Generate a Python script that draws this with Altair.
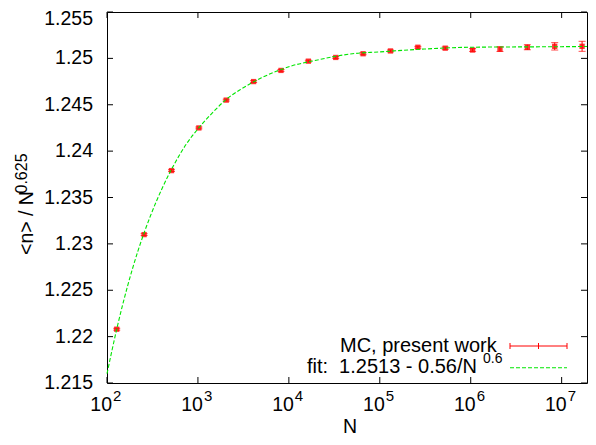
import altair as alt
import pandas as pd

# ---- data ----
N_values = [128, 256, 512, 1024, 2048, 4096, 8192, 16384, 32768, 65536,
            131072, 262144, 524288, 1048576, 2097152, 4194304, 8388608, 16777216]
mean_values = [1.2208, 1.2310, 1.2379, 1.2425, 1.2455, 1.2475, 1.2487, 1.2497, 1.2501, 1.2505,
               1.2508, 1.2512, 1.2511, 1.2509, 1.2510, 1.2512, 1.2513, 1.2513]
err_values = [0.0001, 0.0001, 0.0001, 0.0001, 0.0001, 0.0001, 0.0001, 0.0001, 0.0001, 0.0001,
              0.0001, 0.0001, 0.00012, 0.00015, 0.00025, 0.00027, 0.0004, 0.00054]

# fit curve (green dashed)
fit_N = [100, 130, 170, 220, 300, 400, 550, 750, 1000, 1500, 2000, 3000, 5000,
         10000, 20000, 50000, 100000, 300000, 1000000, 10000000, 19000000]
fit_values = [1.2160, 1.2211, 1.2256, 1.2293, 1.2330, 1.2359, 1.2386, 1.2408, 1.2424,
              1.2443, 1.2455, 1.2467, 1.2479, 1.2491, 1.2498, 1.2505, 1.2507, 1.2510,
              1.2512, 1.25126, 1.25128]

y_ticks = [1.215, 1.22, 1.225, 1.23, 1.235, 1.24, 1.245, 1.25, 1.255]
x_ticks = [100, 1000, 10000, 100000, 1000000, 10000000]
x_exponents = ["2", "3", "4", "5", "6", "7"]

legend_labels = ["MC, present work", "fit:\u00a0\u00a01.2513 - 0.56/N"]
legend_sup = "0.6"
x_title = "N"
y_title_main = "<n> / N"
y_title_sup = "0.625"

# ---- layout / style ----
W, H = 480, 371
FONT = "Liberation Sans"
FS = 19.5
FS_LEG = 20
FS_SUP = 15
RED = "#ff0000"
GREEN = "#00e600"
LX = -5  # legend horizontal shift

df = pd.DataFrame({
    "N": N_values,
    "mean": mean_values,
    "lo": [m - e for m, e in zip(mean_values, err_values)],
    "hi": [m + e for m, e in zip(mean_values, err_values)],
})
fit_df = pd.DataFrame({"N": fit_N, "fit": fit_values})
yt_df = pd.DataFrame({"v": y_ticks})
ylab_df = pd.DataFrame({"v": y_ticks[:-1]})
ylab_top_df = pd.DataFrame({"v": y_ticks[-1:]})
xt_df = pd.DataFrame({"v": x_ticks, "e": x_exponents})
one = pd.DataFrame({"k": [0]})

xscale = alt.Scale(type="log", domain=[100, 1.9e7], nice=False)
yscale = alt.Scale(domain=[1.215, 1.255], nice=False, zero=False)


def X(f):
    return alt.X(f, type="quantitative", scale=xscale, axis=None)


def Y(f):
    return alt.Y(f, type="quantitative", scale=yscale, axis=None)


def black_text(**kw):
    return dict(font=FONT, color="black", **kw)


# inward ticks (all four sides)
yt_left = alt.Chart(yt_df).mark_rule(color="black", strokeWidth=1).encode(
    y=Y("v"), x=alt.value(0), x2=alt.value(6))
yt_right = alt.Chart(yt_df).mark_rule(color="black", strokeWidth=1).encode(
    y=Y("v"), x=alt.value(W - 6), x2=alt.value(W))
xt_bottom = alt.Chart(xt_df).mark_rule(color="black", strokeWidth=1).encode(
    x=X("v"), y=alt.value(H - 6), y2=alt.value(H))
xt_top = alt.Chart(xt_df).mark_rule(color="black", strokeWidth=1).encode(
    x=X("v"), y=alt.value(0), y2=alt.value(6))

# y tick labels
yl = alt.Chart(ylab_df).mark_text(**black_text(align="right", baseline="middle", fontSize=FS)).encode(
    y=Y("v"), x=alt.value(-14), text=alt.Text("v:Q", format=".3~f"))
yl_top = alt.Chart(ylab_top_df).mark_text(**black_text(align="right", baseline="middle", fontSize=FS,
                                                        dy=7)).encode(
    y=Y("v"), x=alt.value(-14), text=alt.Text("v:Q", format=".3~f"))

# error bars
bars = alt.Chart(df).mark_rule(color=RED, strokeWidth=1).encode(
    x=X("N"), y=Y("lo"), y2="hi")
caps_lo = alt.Chart(df).mark_tick(color=RED, orient="horizontal", size=7, thickness=1).encode(
    x=X("N"), y=Y("lo"))
caps_hi = alt.Chart(df).mark_tick(color=RED, orient="horizontal", size=7, thickness=1).encode(
    x=X("N"), y=Y("hi"))
points = alt.Chart(df).mark_square(color=RED, size=28, opacity=0.8).encode(
    x=X("N"), y=Y("mean"))

fit_line = alt.Chart(fit_df).mark_line(color=GREEN, strokeWidth=1.1, strokeDash=[4, 2],
                                       interpolate="monotone").encode(
    x=X("N"), y=Y("fit"))

# x tick labels 10^k
xl_base = alt.Chart(xt_df).mark_text(**black_text(align="right", baseline="alphabetic", dx=5,
                                                  fontSize=FS)).encode(
    x=X("v"), y=alt.value(399.4), text=alt.value("10"))
xl_sup = alt.Chart(xt_df).mark_text(**black_text(align="left", baseline="alphabetic", dx=6,
                                                 fontSize=FS_SUP)).encode(
    x=X("v"), y=alt.value(389), text="e:N")

# titles
xtitle = alt.Chart(one).mark_text(**black_text(align="center", baseline="alphabetic",
                                               fontSize=FS)).encode(
    x=alt.value(W / 2 + 3), y=alt.value(421), text=alt.value(x_title))
ytitle = alt.Chart(one).mark_text(**black_text(align="left", baseline="alphabetic", angle=270,
                                               fontSize=FS)).encode(
    x=alt.value(-73.7), y=alt.value(243), text=alt.value(y_title_main))
ytitle_sup = alt.Chart(one).mark_text(**black_text(align="left", baseline="alphabetic", angle=270,
                                                   fontSize=16)).encode(
    x=alt.value(-80.5), y=alt.value(181.5), text=alt.value(y_title_sup))

# legend
leg_t1 = alt.Chart(one).mark_text(**black_text(align="right", baseline="alphabetic",
                                               fontSize=FS_LEG)).encode(
    x=alt.value(394.7 + LX), y=alt.value(339.7), text=alt.value(legend_labels[0]))
leg_t2 = alt.Chart(one).mark_text(**black_text(align="right", baseline="alphabetic",
                                               fontSize=FS_LEG)).encode(
    x=alt.value(375 + LX), y=alt.value(361.3), text=alt.value(legend_labels[1]))
leg_t2s = alt.Chart(one).mark_text(**black_text(align="left", baseline="alphabetic",
                                                fontSize=FS_SUP - 1)).encode(
    x=alt.value(381 + LX), y=alt.value(350.5), text=alt.value(legend_sup))
leg_red = alt.Chart(one).mark_rule(color=RED, strokeWidth=1).encode(
    x=alt.value(408 + LX), x2=alt.value(465 + LX), y=alt.value(334))
leg_red_c1 = alt.Chart(one).mark_rule(color=RED, strokeWidth=1).encode(
    x=alt.value(408 + LX), y=alt.value(331), y2=alt.value(337))
leg_red_c2 = alt.Chart(one).mark_rule(color=RED, strokeWidth=1).encode(
    x=alt.value(465 + LX), y=alt.value(331), y2=alt.value(337))
leg_red_c3 = alt.Chart(one).mark_rule(color=RED, strokeWidth=1).encode(
    x=alt.value(436.5 + LX), y=alt.value(331), y2=alt.value(337))
leg_green = alt.Chart(one).mark_rule(color=GREEN, strokeWidth=1.1, strokeDash=[4, 2]).encode(
    x=alt.value(408 + LX), x2=alt.value(465 + LX), y=alt.value(355.7))

chart = alt.layer(
    yt_left, yt_right, xt_bottom, xt_top, yl, yl_top,
    bars, caps_lo, caps_hi, points, fit_line,
    xl_base, xl_sup, xtitle, ytitle, ytitle_sup,
    leg_t1, leg_t2, leg_t2s, leg_red, leg_red_c1, leg_red_c2, leg_red_c3, leg_green,
).properties(
    width=W, height=H,
    padding={"left": 99, "top": 4, "right": 1, "bottom": 54},
    autosize=alt.AutoSizeParams(type="none"),
    background="white",
).configure_view(stroke="black", strokeWidth=1)

chart.save("out.html", embed_options={"renderer": "svg", "actions": False})
